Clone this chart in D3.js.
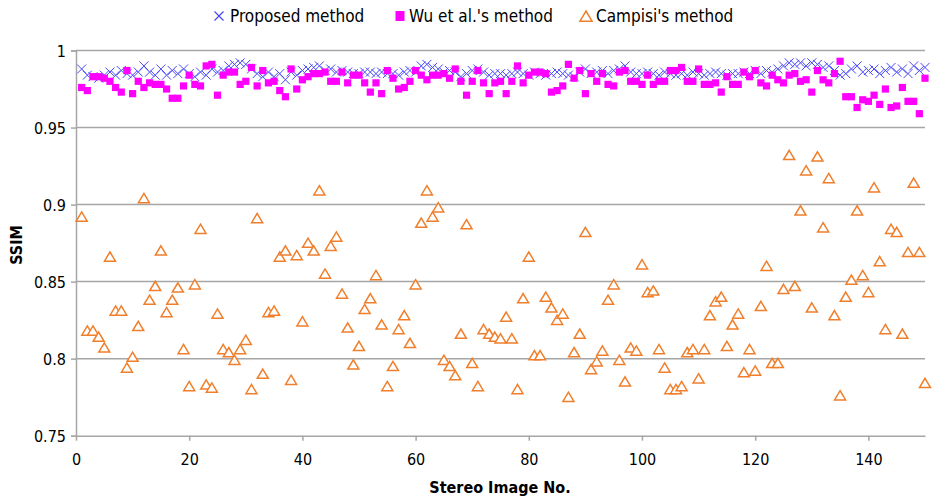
<!DOCTYPE html>
<html><head><meta charset="utf-8">
<script src="https://cdn.jsdelivr.net/npm/d3@7"></script>
<style>
body{margin:0;background:#fff;}
svg text{font-family:"Liberation Sans Narrow","DejaVu Sans Condensed","Liberation Sans",Arial,sans-serif;fill:#000;}
</style></head><body>
<svg id="c" width="932" height="499"></svg>
<script>
const seriesNames = ["Proposed method", "Wu et al.'s method", "Campisi's method"];
const xTicks = [0,20,40,60,80,100,120,140];
const yTicks = [0.75,0.8,0.85,0.9,0.95,1];
const yTickLabels = ["0.75","0.8","0.85","0.9","0.95","1"];
const xLabel = "Stereo Image No.";
const yLabel = "SSIM";

const proposed = [
.988,.984,.983,.982,.984,.986,.984,.987,.985,.984,
.986,.990,.986,.984,.988,.984,.987,.985,.988,.985,
.983,.986,.984,.988,.986,.987,.990,.991,.992,.991,
.988,.985,.983,.986,.983,.985,.981,.986,.984,.987,
.988,.989,.990,.987,.988,.986,.987,.986,.985,.985,
.986,.986,.985,.986,.985,.985,.984,.986,.987,.986,
.990,.991,.989,.988,.986,.987,.986,.983,.985,.987,
.988,.986,.984,.985,.985,.984,.985,.986,.985,.984,
.986,.985,.984,.985,.986,.985,.984,.983,.986,.988,
.985,.986,.987,.985,.987,.988,.990,.986,.985,.985,
.986,.985,.984,.986,.985,.984,.985,.984,.986,.985,
.984,.985,.986,.985,.984,.985,.985,.986,.985,.987,
.985,.987,.986,.988,.990,.992,.991,.992,.990,.992,
.991,.989,.990,.987,.984,.985,.988,.990,.986,.987,
.988,.985,.987,.989,.986,.988,.985,.990,.987,.989];

const wu = [
.976,.974,.983,.983,.982,.980,.976,.973,.987,.972,
.980,.976,.979,.978,.978,.975,.969,.969,.977,.984,
.978,.977,.990,.991,.971,.984,.986,.986,.978,.980,
.989,.977,.987,.979,.980,.974,.970,.988,.975,.981,
.983,.985,.985,.986,.980,.980,.986,.979,.984,.984,
.979,.973,.979,.972,.987,.982,.975,.976,.980,.987,
.984,.981,.984,.984,.985,.982,.988,.980,.971,.980,
.987,.979,.972,.979,.980,.972,.980,.990,.979,.984,
.986,.986,.985,.973,.974,.977,.991,.982,.987,.972,
.985,.980,.985,.978,.977,.986,.987,.980,.980,.978,
.984,.978,.980,.980,.987,.987,.989,.980,.980,.988,
.978,.978,.979,.973,.983,.978,.978,.986,.983,.987,
.979,.977,.984,.981,.979,.984,.985,.980,.981,.973,
.987,.981,.979,.985,.993,.970,.970,.963,.968,.967,
.971,.965,.975,.963,.964,.976,.967,.967,.959,.982];

const campisi = [
.892,.818,.818,.814,.807,.866,.831,.831,.794,.801,
.821,.904,.838,.847,.870,.830,.838,.846,.806,.782,
.848,.884,.783,.781,.829,.806,.804,.799,.806,.812,
.780,.891,.790,.830,.831,.866,.870,.786,.867,.824,
.875,.870,.909,.855,.873,.879,.842,.820,.796,.808,
.832,.839,.854,.822,.782,.795,.819,.828,.810,.848,
.888,.909,.892,.898,.799,.795,.789,.816,.887,.797,
.782,.819,.816,.814,.813,.827,.813,.780,.839,.866,
.802,.802,.840,.833,.825,.829,.775,.804,.816,.882,
.793,.798,.805,.838,.848,.799,.785,.807,.805,.861,
.843,.844,.806,.794,.780,.780,.782,.804,.806,.787,
.806,.828,.837,.840,.808,.822,.829,.791,.806,.792,
.834,.860,.797,.797,.845,.932,.847,.896,.922,.833,
.931,.885,.917,.828,.776,.840,.851,.896,.854,.843,
.911,.863,.819,.884,.882,.816,.869,.914,.869,.784];

const colors = {prop:"#4848f8", wu:"#ff00ff", camp:"#f07f2c"};
const svg = d3.select("#c");
const x = d3.scaleLinear().domain([0,150]).range([76,925]);
const y = d3.scaleLinear().domain([0.75,1]).range([435.7,50.5]);
const grid = "#a6a6a6";

// gridlines
svg.append("g").selectAll("line").data(yTicks.slice(1)).join("line")
  .attr("x1",x(0)).attr("x2",x(150)).attr("y1",d=>y(d)).attr("y2",d=>y(d))
  .attr("stroke",grid).attr("stroke-width",1.5);

// y axis
const yAxis = d3.axisLeft(y).tickValues(yTicks).tickFormat((d,i)=>yTickLabels[i]).tickSize(5).tickPadding(5);
const gy = svg.append("g").attr("transform",`translate(${x(0)},0)`).call(yAxis);
gy.select(".domain").attr("stroke",grid).attr("stroke-width",1.5);
gy.selectAll(".tick line").attr("stroke",grid).attr("stroke-width",1.5);
gy.selectAll(".tick text").style("font-size","16px").attr("dy","0.35em");

// x axis
const xAxis = d3.axisBottom(x).tickValues(xTicks).tickSize(5).tickPadding(13).tickSizeOuter(0);
const gx = svg.append("g").attr("transform",`translate(0,${y(0.75)})`).call(xAxis);
gx.select(".domain").attr("stroke",grid).attr("stroke-width",1.5);
gx.selectAll(".tick line").attr("stroke",grid).attr("stroke-width",1.5);
gx.selectAll(".tick text").style("font-size","16px");

// labels
svg.append("text").attr("x",500).attr("y",493).attr("text-anchor","middle")
  .style("font-size","16px").style("font-weight","bold").text(xLabel);
svg.append("text").attr("transform","translate(22,245) rotate(-90)").attr("text-anchor","middle")
  .style("font-size","16px").style("font-weight","bold").text(yLabel);

const idx = d3.range(1,151);
const xShape = (cx,cy,s)=>`M${cx-s},${cy-s}L${cx+s},${cy+s}M${cx-s},${cy+s}L${cx+s},${cy-s}`;
const triShape = (cx,cy,s)=>`M${cx},${cy-s}L${cx+s*1.1},${cy+s*0.85}L${cx-s*1.1},${cy+s*0.85}Z`;

// Proposed
svg.append("g").selectAll("path").data(idx).join("path")
  .attr("d",(d,i)=>xShape(x(d),y(proposed[i]),4.5))
  .attr("stroke",colors.prop).attr("stroke-width",1).attr("fill","none");
// Wu
svg.append("g").selectAll("rect").data(idx).join("rect")
  .attr("x",(d,i)=>x(d)-3.6).attr("y",(d,i)=>y(wu[i])-3.6)
  .attr("width",7.2).attr("height",7.2).attr("fill",colors.wu);
// Campisi
svg.append("g").selectAll("path").data(idx).join("path")
  .attr("d",(d,i)=>triShape(x(d),y(campisi[i]),5))
  .attr("stroke",colors.camp).attr("stroke-width",1.5).attr("fill","#fff");

// legend
const lg = svg.append("g");
lg.append("path").attr("d",xShape(219,16,4.5)).attr("stroke",colors.prop).attr("stroke-width",1.2).attr("fill","none");
lg.append("text").attr("x",230).attr("y",16).attr("dy","0.35em").style("font-size","17px").text(seriesNames[0]);
lg.append("rect").attr("x",395.5).attr("y",11).attr("width",9).attr("height",10).attr("fill",colors.wu);
lg.append("text").attr("x",409).attr("y",16).attr("dy","0.35em").style("font-size","17px").text(seriesNames[1]);
lg.append("path").attr("d",triShape(586,16.5,5.5)).attr("stroke",colors.camp).attr("stroke-width",1.5).attr("fill","#fff");
lg.append("text").attr("x",596).attr("y",16).attr("dy","0.35em").style("font-size","17px").text(seriesNames[2]);
</script>
</body></html>
